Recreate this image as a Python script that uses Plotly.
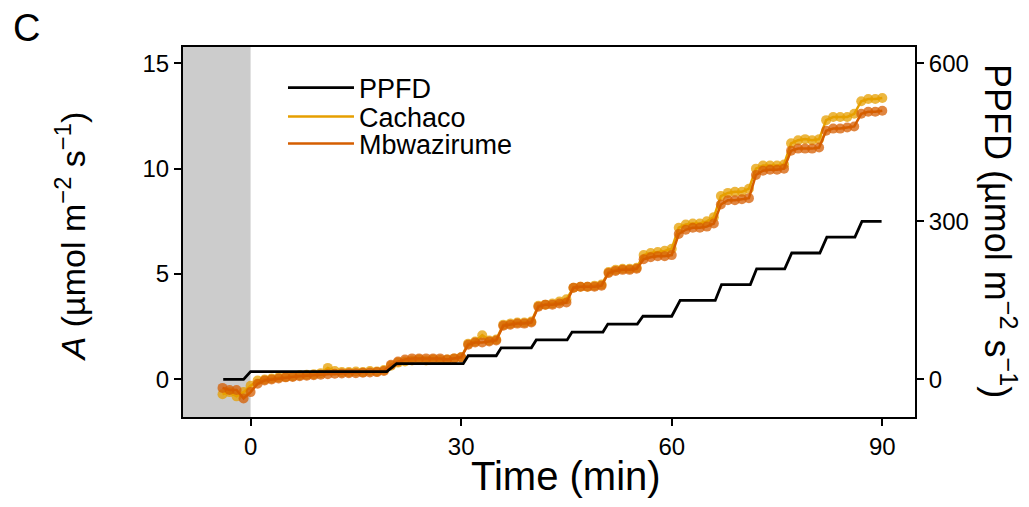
import plotly.graph_objects as go

# Sampling times (min) for net assimilation
time_min = list(range(-4, 91))

# Net assimilation A (µmol m-2 s-1) per cultivar
a_cachaco = [
    -0.7, -0.6, -0.8, -0.6, -0.3,
    -0.05, 0.0, 0.05, 0.1, 0.12, 0.15, 0.2, 0.22, 0.25, 0.3,
    0.55, 0.4, 0.35, 0.35, 0.38, 0.35, 0.4, 0.38, 0.45, 0.65,
    0.8, 0.85, 0.9, 0.95, 0.9, 0.95, 0.92, 0.95, 1.0, 1.05,
    1.7, 1.8, 2.1, 1.85, 1.9,
    2.6, 2.65, 2.7, 2.7, 2.75,
    3.5, 3.55, 3.6, 3.7, 3.8,
    4.35, 4.4, 4.4, 4.45, 4.5,
    5.1, 5.2, 5.25, 5.25, 5.3,
    5.9, 6.0, 6.05, 6.1, 6.2,
    7.2, 7.35, 7.4, 7.4, 7.5, 7.7,
    8.7, 8.85, 8.9, 8.9, 9.05,
    10.0, 10.15, 10.15, 10.15, 10.2,
    11.2, 11.35, 11.4, 11.35, 11.4,
    12.3, 12.45, 12.45, 12.45, 12.6,
    13.2, 13.3, 13.3, 13.35,
]
a_mbwazirume = [
    -0.4, -0.5, -0.5, -0.9, -0.6,
    -0.2, -0.05, 0.0, 0.05, 0.1, 0.12, 0.15, 0.18, 0.2, 0.22,
    0.25, 0.27, 0.28, 0.3, 0.3, 0.32, 0.33, 0.35, 0.4, 0.7,
    0.85, 0.95, 1.0, 1.0, 1.0, 1.0, 1.0, 0.95, 1.0, 1.05,
    1.65, 1.75, 1.75, 1.8, 1.85,
    2.55, 2.6, 2.65, 2.65, 2.7,
    3.45, 3.55, 3.55, 3.6, 3.65,
    4.35, 4.4, 4.4, 4.4, 4.45,
    5.05, 5.15, 5.2, 5.2, 5.25,
    5.7, 5.8, 5.85, 5.85, 5.9,
    6.9, 7.1, 7.2, 7.2, 7.25, 7.4,
    8.3, 8.5, 8.5, 8.55, 8.6,
    9.7, 9.9, 9.95, 9.95, 10.0,
    10.85, 10.95, 10.95, 10.95, 11.0,
    11.8, 11.9, 11.9, 11.95, 12.0,
    12.6, 12.7, 12.7, 12.75,
]

# Light steps: PPFD level (µmol m-2 s-1) with the time span it was held
ppfd_level = [0, 15, 30, 45, 60, 75, 90, 105, 120, 150, 180, 210, 240, 270, 300]
ppfd_start = [-3.9, 0.0, 20.8, 31.0, 35.7, 40.7, 45.8, 50.9, 55.9, 61.2, 67.1, 72.1, 77.1, 82.1, 87.1]
ppfd_end = [-1.0, 19.4, 30.3, 35.0, 40.0, 45.1, 50.2, 55.1, 60.0, 66.2, 71.2, 76.1, 81.1, 86.1, 89.9]

ppfd_t, ppfd_v = [], []
for lv, t0, t1 in zip(ppfd_level, ppfd_start, ppfd_end):
    ppfd_t += [t0, t1]
    ppfd_v += [lv, lv]

col_cachaco = "#E69F00"
col_mbwa = "#D55E00"

x_range = [-9.63, 94.66]
a_range = [-1.78, 15.77]
ppfd_range = [v * 40 for v in a_range]

FONT = "Liberation Sans, Arial, sans-serif"

fig = go.Figure()

for leg, name, vals, col in [("legend2", "Cachaco", a_cachaco, col_cachaco),
                             ("legend3", "Mbwazirume", a_mbwazirume, col_mbwa)]:
    fig.add_trace(go.Scatter(
        x=time_min, y=vals, mode="markers", showlegend=False,
        marker=dict(color=col, size=10, opacity=0.75, line=dict(width=0)),
        hoverinfo="skip",
    ))
    fig.add_trace(go.Scatter(
        x=time_min, y=vals, mode="lines", name=name, legend=leg,
        line=dict(color=col, width=2.5),
    ))

fig.add_trace(go.Scatter(
    x=ppfd_t, y=ppfd_v, mode="lines", name="PPFD", yaxis="y2", legend="legend",
    line=dict(color="black", width=2.8),
))

# Dark period before the light steps
fig.add_shape(type="rect", xref="x", yref="paper",
              x0=x_range[0], x1=0, y0=0, y1=1,
              fillcolor="#CCCCCC", line=dict(width=0), layer="below")

tick_font = dict(family=FONT, size=24, color="black")


def legend_box(ypos):
    return dict(
        x=0.1366, y=ypos, xanchor="left", yanchor="middle",
        bgcolor="rgba(0,0,0,0)", itemwidth=66,
        font=dict(family=FONT, size=27, color="black"),
    )


fig.update_layout(
    width=1029, height=507,
    margin=dict(l=183, r=114, t=47, b=90),
    paper_bgcolor="white", plot_bgcolor="white",
    font=dict(family=FONT, color="black"),
    xaxis=dict(
        range=x_range, tickvals=[0, 30, 60, 90], ticks="outside",
        ticklen=7, tickwidth=2, tickcolor="black", tickfont=tick_font,
        showline=True, linecolor="black", linewidth=2, mirror=True,
        showgrid=False, zeroline=False,
    ),
    yaxis=dict(
        range=a_range, tickvals=[0, 5, 10, 15], ticks="outside",
        ticklen=7, tickwidth=2, tickcolor="black", tickfont=tick_font,
        showline=True, linecolor="black", linewidth=2, mirror=True,
        showgrid=False, zeroline=False,
    ),
    yaxis2=dict(
        range=ppfd_range, tickvals=[0, 300, 600], overlaying="y", side="right",
        ticks="outside", ticklen=7, tickwidth=2, tickcolor="black",
        tickfont=tick_font, showline=True, linecolor="black", linewidth=2,
        showgrid=False, zeroline=False,
    ),
    legend=legend_box(0.889),
    legend2=legend_box(0.811),
    legend3=legend_box(0.738),
    showlegend=True,
)

fig.add_annotation(text="Time (min)", xref="paper", yref="paper",
                   x=0.523, y=-0.16, xanchor="center", yanchor="middle",
                   showarrow=False, font=dict(family=FONT, size=40, color="black"))
fig.add_annotation(text="<i>A</i> (µmol m<sup>−2</sup> s<sup>−1</sup>)",
                   xref="paper", yref="paper", x=-0.154, y=0.489,
                   xanchor="center", yanchor="middle", textangle=-90,
                   showarrow=False, font=dict(family=FONT, size=34, color="black"))
fig.add_annotation(text="PPFD (µmol m<sup>−2</sup> s<sup>−1</sup>)",
                   xref="paper", yref="paper", x=1.116, y=0.503,
                   xanchor="center", yanchor="middle", textangle=90,
                   showarrow=False, font=dict(family=FONT, size=36, color="black"))
fig.add_annotation(text="C", xref="paper", yref="paper",
                   x=(26 - 183) / 732, y=(417 - 28) / 370,
                   xanchor="center", yanchor="middle", showarrow=False,
                   font=dict(family=FONT, size=38, color="black"))

fig.write_html("out.html")
